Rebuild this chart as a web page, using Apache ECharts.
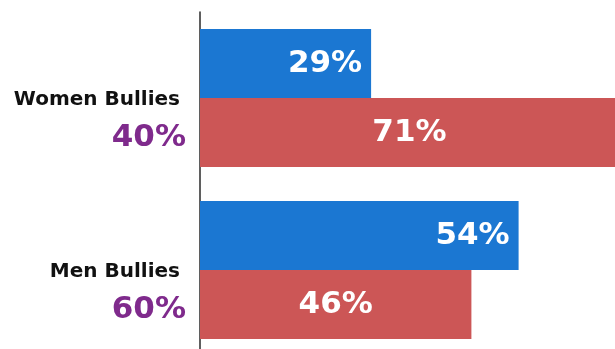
<!DOCTYPE html>
<html>
<head>
<meta charset="utf-8">
<script src="https://cdn.jsdelivr.net/npm/echarts@6/dist/echarts.min.js"></script>
<style>
  html, body { margin: 0; padding: 0; background: #ffffff; }
  #chart { width: 615px; height: 349px; }
</style>
</head>
<body>
<div id="chart"></div>
<script>
// Groups of bullies and the share each group represents
const categories = ['Women Bullies', 'Men Bullies'];
const groupShares = ['40%', '60%'];
// Two bar series per group
const blueValues = [29, 54];
const redValues = [71, 46];

const FONT = '"DejaVu Sans", Verdana, sans-serif';

const chart = echarts.init(document.getElementById('chart'), null, { renderer: 'canvas' });

chart.setOption({
  backgroundColor: '#ffffff',
  animation: false,
  // plot area runs past the right and bottom edges of the canvas
  grid: {
    left: 200, top: 12, right: -175, bottom: -7,
    containLabel: false,
    outerBoundsMode: 'none'
  },
  xAxis: {
    type: 'value',
    min: 0,
    max: 100,
    show: false
  },
  yAxis: {
    type: 'category',
    data: categories,
    inverse: true,
    axisLine: { show: true, lineStyle: { color: '#2a2a2a', width: 1.5 } },
    axisTick: { show: false },
    splitLine: { show: false },
    axisLabel: {
      margin: 14,
      align: 'right',
      formatter: function (value, idx) {
        return '{g|}\n{a|' + value + '}\n{b|' + groupShares[idx] + '}';
      },
      rich: {
        g: { height: 44, lineHeight: 44 },
        a: {
          fontFamily: FONT, fontWeight: 'bold', fontSize: 20, color: '#111111',
          lineHeight: 36, align: 'right', padding: [0, 6, 0, 0]
        },
        b: {
          fontFamily: FONT, fontWeight: 'bold', fontSize: 31, color: '#7f2a8c',
          lineHeight: 40, align: 'right'
        }
      }
    }
  },
  series: [
    {
      type: 'bar',
      data: blueValues,
      barWidth: 69,
      barGap: '0%',
      itemStyle: { color: '#1b77d2' },
      label: {
        show: true,
        position: 'insideRight',
        distance: 9,
        formatter: '{c}%',
        color: '#ffffff',
        fontFamily: FONT,
        fontWeight: 'bold',
        fontSize: 31
      }
    },
    {
      type: 'bar',
      data: redValues,
      barWidth: 69,
      barGap: '0%',
      itemStyle: { color: '#cc5656' },
      label: {
        show: true,
        position: 'inside',
        formatter: '{c}%',
        color: '#ffffff',
        fontFamily: FONT,
        fontWeight: 'bold',
        fontSize: 31
      }
    }
  ]
});
</script>
</body>
</html>
